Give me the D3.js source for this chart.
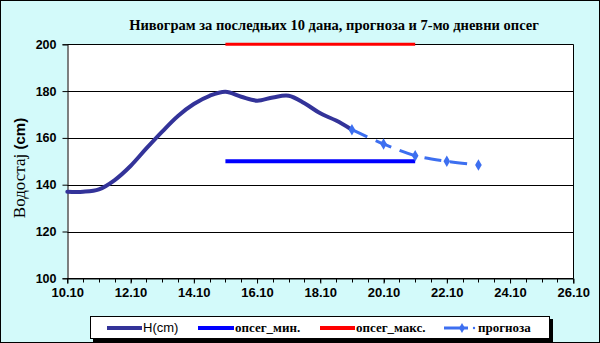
<!DOCTYPE html>
<html><head><meta charset="utf-8">
<script src="https://cdn.jsdelivr.net/npm/d3@7"></script>
<style>html,body{margin:0;padding:0;background:#fff}svg{display:block}</style>
</head><body><svg id="c" width="600" height="343"></svg>
<script>
// ---- data ----
const titleText = "Нивограм за последњих 10 дана, прогноза и 7-мо дневни опсег";
const yLabel1 = "Водостај ";
const yLabel2 = "(cm)";
const hTimes = ["2009-10-10T00:00","2009-10-10T12:00","2009-10-11T00:00","2009-10-11T12:00","2009-10-12T00:00","2009-10-12T12:00","2009-10-13T00:00","2009-10-13T12:00","2009-10-14T00:00","2009-10-14T12:00","2009-10-15T00:00","2009-10-15T12:00","2009-10-16T00:00","2009-10-16T12:00","2009-10-17T00:00","2009-10-17T12:00","2009-10-18T00:00","2009-10-18T12:00","2009-10-19T00:00"];
const hValues = [137,137,138,142,148,155.5,162.7,169.4,174.5,178,179.7,177.6,175.9,177.3,178,174.8,170.5,167.4,163.5];
const fcTimes = ["2009-10-19T00:00","2009-10-20T00:00","2009-10-21T00:00","2009-10-22T00:00","2009-10-23T00:00"];
const fcValues = [163.5,157.4,152.4,150,148.4];
const minTimes = ["2009-10-15T00:00","2009-10-21T00:00"];
const minValues = [150,150];
const maxTimes = ["2009-10-15T00:00","2009-10-21T00:00"];
const maxValues = [200,200];
const xTickTimes = ["2009-10-10T00:00","2009-10-12T00:00","2009-10-14T00:00","2009-10-16T00:00","2009-10-18T00:00","2009-10-20T00:00","2009-10-22T00:00","2009-10-24T00:00","2009-10-26T00:00"];
const yDomain = [100,200];
const yTicks = [100,120,140,160,180,200];
const legendNames = ["H(cm)","опсег_мин.","опсег_макс.","прогноза"];

// ---- drawing ----
const parse = s => new Date(s);
const svg = d3.select("#c");
const W=600,H=343;
const L=67.3,R=573.3,T=44.3,B=278.3;
const xTicks = xTickTimes.map(parse);
const x = d3.scaleTime().domain([xTicks[0], xTicks[xTicks.length-1]]).range([L,R]);
const y = d3.scaleLinear().domain(yDomain).range([B,T]);

svg.append("rect").attr("x",0.5).attr("y",0.5).attr("width",W-1).attr("height",H-1)
  .attr("fill","#d3fafa").attr("stroke","#000");
svg.append("rect").attr("x",L).attr("y",T).attr("width",R-L).attr("height",B-T).attr("fill","#fff");

// gridlines
svg.append("g").selectAll("line").data(yTicks).join("line")
  .attr("x1",L).attr("x2",R).attr("y1",d=>Math.round(y(d))+0.5).attr("y2",d=>Math.round(y(d))+0.5)
  .attr("stroke","#000").attr("stroke-width",1);
svg.append("line").attr("x1",Math.round(R)+0.5).attr("x2",Math.round(R)+0.5).attr("y1",T).attr("y2",B).attr("stroke","#000");

// axes
const xAxis = d3.axisBottom(x).tickValues(xTicks).tickFormat(d3.timeFormat("%d.%m")).tickSize(5).tickPadding(4);
const gx = svg.append("g").attr("transform",`translate(0,${Math.round(B)+0.5})`).call(xAxis);
gx.select(".domain").attr("stroke","#000");
gx.selectAll("text").attr("font-family","Liberation Sans, Arial, sans-serif").attr("font-weight","bold").attr("font-size","13px").attr("fill","#000");
const xMinor = d3.timeHour.every(12).range(x.domain()[0], d3.timeHour.offset(x.domain()[1],1));
svg.append("g").attr("transform",`translate(0,${Math.round(B)+0.5})`).selectAll("line").data(xMinor).join("line")
  .attr("x1",d=>Math.round(x(d))+0.5).attr("x2",d=>Math.round(x(d))+0.5).attr("y1",0).attr("y2",4).attr("stroke","#000");

const yAxis = d3.axisLeft(y).tickValues(yTicks).tickSize(5).tickPadding(6).tickFormat(d3.format("d"));
const gy = svg.append("g").attr("transform",`translate(${Math.round(L)+0.5},0)`).call(yAxis);
gy.select(".domain").attr("stroke","#000");
gy.selectAll("text").attr("font-family","Liberation Sans, Arial, sans-serif").attr("font-weight","bold").attr("font-size","12.5px").attr("fill","#000");

// series
const smooth = d3.line().x(d=>x(d[0])).y(d=>y(d[1])).curve(d3.curveCatmullRom.alpha(0.5));
const straight = d3.line().x(d=>x(d[0])).y(d=>y(d[1]));
const zip = (t,v)=>t.map((d,i)=>[parse(d),v[i]]);

svg.append("path").datum(zip(maxTimes,maxValues)).attr("d",straight).attr("fill","none").attr("stroke","#ff0000").attr("stroke-width",3);
svg.append("path").datum(zip(minTimes,minValues)).attr("d",straight).attr("fill","none").attr("stroke","#0000ff").attr("stroke-width",4);
svg.append("path").datum(zip(hTimes,hValues)).attr("d",smooth).attr("fill","none").attr("stroke","#333399").attr("stroke-width",4).attr("stroke-linecap","round");
const fc = zip(fcTimes,fcValues);
svg.append("path").datum(fc).attr("d",smooth).attr("fill","none").attr("stroke","#3d6ff0").attr("stroke-width",3).attr("stroke-dasharray","17,9");
svg.append("g").selectAll("path").data(fc).join("path")
  .attr("d",d3.symbol(d3.symbolDiamond,38)).attr("transform",d=>`translate(${x(d[0])},${y(d[1])})`).attr("fill","#3d6ff0");

// title
svg.append("text").attr("x",334).attr("y",30).attr("text-anchor","middle")
  .attr("font-family","Liberation Serif, Times New Roman, serif").attr("font-weight","bold").attr("font-size","14.5px").attr("fill","#000").text(titleText);

// y label
const yl = svg.append("text").attr("transform","translate(25,168) rotate(-90)").attr("text-anchor","middle").attr("fill","#000");
yl.append("tspan").attr("font-family","Liberation Serif, Times New Roman, serif").attr("font-size","17px").text(yLabel1);
yl.append("tspan").attr("font-family","Liberation Sans, Arial, sans-serif").attr("font-weight","bold").attr("font-size","15px").text(yLabel2);

// legend
const lg = svg.append("g");
lg.append("rect").attr("x",93).attr("y",319).attr("width",460).attr("height",23).attr("fill","#000");
lg.append("rect").attr("x",90.5).attr("y",316.5).attr("width",459).attr("height",22).attr("fill","#fff").attr("stroke","#000");
const items = [
  {x1:107,x2:142,tx:143,color:"#333399",w:4,sans:true},
  {x1:198,x2:234,tx:235,color:"#0000ff",w:4},
  {x1:320,x2:355,tx:356,color:"#ff0000",w:4},
  {x1:444,x2:468,tx:478,color:"#3d6ff0",w:3,marker:true}
];
items.forEach((it,i)=>{
  lg.append("line").attr("x1",it.x1).attr("x2",it.x2).attr("y1",328).attr("y2",328).attr("stroke",it.color).attr("stroke-width",it.w);
  if(it.marker){
    lg.append("path").attr("d",d3.symbol(d3.symbolDiamond,30)).attr("transform","translate(462,328)").attr("fill",it.color);
    lg.append("circle").attr("cx",474).attr("cy",328).attr("r",1.2).attr("fill",it.color);
  }
  lg.append("text").attr("x",it.tx).attr("y",332).attr("fill","#000")
    .attr("font-family",it.sans?"Liberation Sans, Arial, sans-serif":"Liberation Serif, Times New Roman, serif")
    .attr("font-size",it.sans?"13px":"13px").attr("font-weight",it.sans?"normal":"bold").text(legendNames[i]);
});
</script></body></html>
